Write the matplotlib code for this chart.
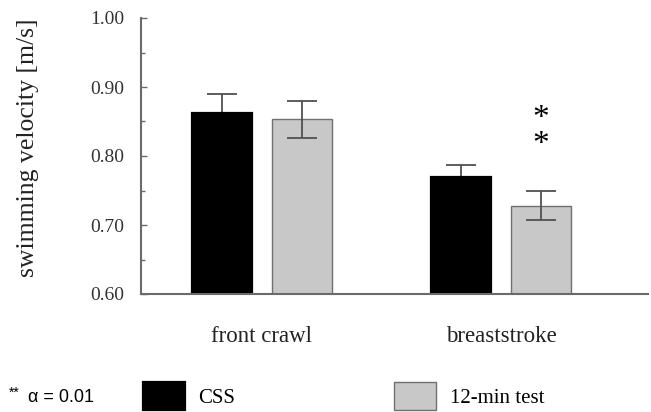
import matplotlib.pyplot as plt
from matplotlib.ticker import MultipleLocator

# data
strokes = ['front crawl', 'breaststroke']
css = [0.863, 0.769]
css_sd = [0.027, 0.018]
test12 = [0.853, 0.728]
test12_sd = [0.027, 0.021]
star_y = [0.867, 0.826]  # two stars, ** = significant at alpha 0.01

serif = 'Liberation Serif'
grey = '#c8c8c8'
axcol = '#6a6a6a'

fig = plt.figure(figsize=(6.51, 4.12), dpi=100)
ax = fig.add_axes([141 / 651, 118 / 412, 507 / 651, 276 / 412])

x = [0, 1]
off = 0.168
w = 0.25
xa = [i - off for i in x]
xb = [i + off for i in x]

# black bars, error bar only upwards (lower half hidden behind bar)
b1 = ax.bar(xa, css, w, color='black', edgecolor='black', linewidth=1.6, zorder=2, label='CSS')
ax.errorbar(xa, css, yerr=[[0, 0], css_sd], fmt='none', ecolor='#505050',
            elinewidth=1.3, capsize=11, capthick=1.3, zorder=1)

b2 = ax.bar(xb, test12, w, color=grey, edgecolor='#707070', linewidth=1, zorder=2, label='12-min test')
ax.errorbar(xb, test12, yerr=test12_sd, fmt='none', ecolor='#505050',
            elinewidth=1.3, capsize=11, capthick=1.3, zorder=3)

# significance stars over breaststroke 12-min test (one text, one star per line)
ax.annotate('\n'.join('*' for _ in star_y), xy=(xb[1], sum(star_y) / len(star_y)),
            xytext=(0, -5.5), textcoords='offset points', family=serif, fontsize=24,
            linespacing=0.83, ha='center', va='center')

ax.set_xlim(-0.506, 1.615)
ax.set_ylim(0.60, 1.00)
ax.yaxis.set_major_locator(MultipleLocator(0.1))
ax.yaxis.set_minor_locator(MultipleLocator(0.05))
ax.set_yticks([0.6, 0.7, 0.8, 0.9, 1.0])
ax.set_yticklabels(['0.60', '0.70', '0.80', '0.90', '1.00'], family=serif, fontsize=14, color='#333333')
ax.set_xticks(x)
ax.set_xticklabels(strokes, family=serif, fontsize=16.5, color='#222222')
ax.tick_params(axis='x', length=0, pad=23)
ax.tick_params(axis='y', which='major', direction='in', length=4, width=1, color=axcol, pad=12)
ax.tick_params(axis='y', which='minor', direction='in', length=3, width=1, color=axcol)

for s in ['top', 'right']:
    ax.spines[s].set_visible(False)
for s in ['left', 'bottom']:
    ax.spines[s].set_color(axcol)
    ax.spines[s].set_linewidth(1.5)

fig.text(28 / 651, 1 - 148 / 412, 'swimming velocity [m/s]', family=serif, fontsize=18.5,
         rotation=90, ha='center', va='center', color='#222222')

# legend row at the bottom
fig.legend(handles=[b1, b2], loc='lower left', bbox_to_anchor=(143 / 651, 2 / 412),
           ncol=2, frameon=False, prop={'family': serif, 'size': 15},
           handlelength=2.0, handleheight=1.7, handletextpad=0.65, columnspacing=7.65,
           borderpad=0, borderaxespad=0)

fig.text(9 / 651, 1 - 400 / 412, '**', family='Liberation Sans', fontsize=10, va='bottom')
fig.text(28 / 651, 1 - 398 / 412, '\u03b1 = 0.01', family='Liberation Sans', fontsize=13, va='center')

fig.savefig('out.png', dpi=100)
